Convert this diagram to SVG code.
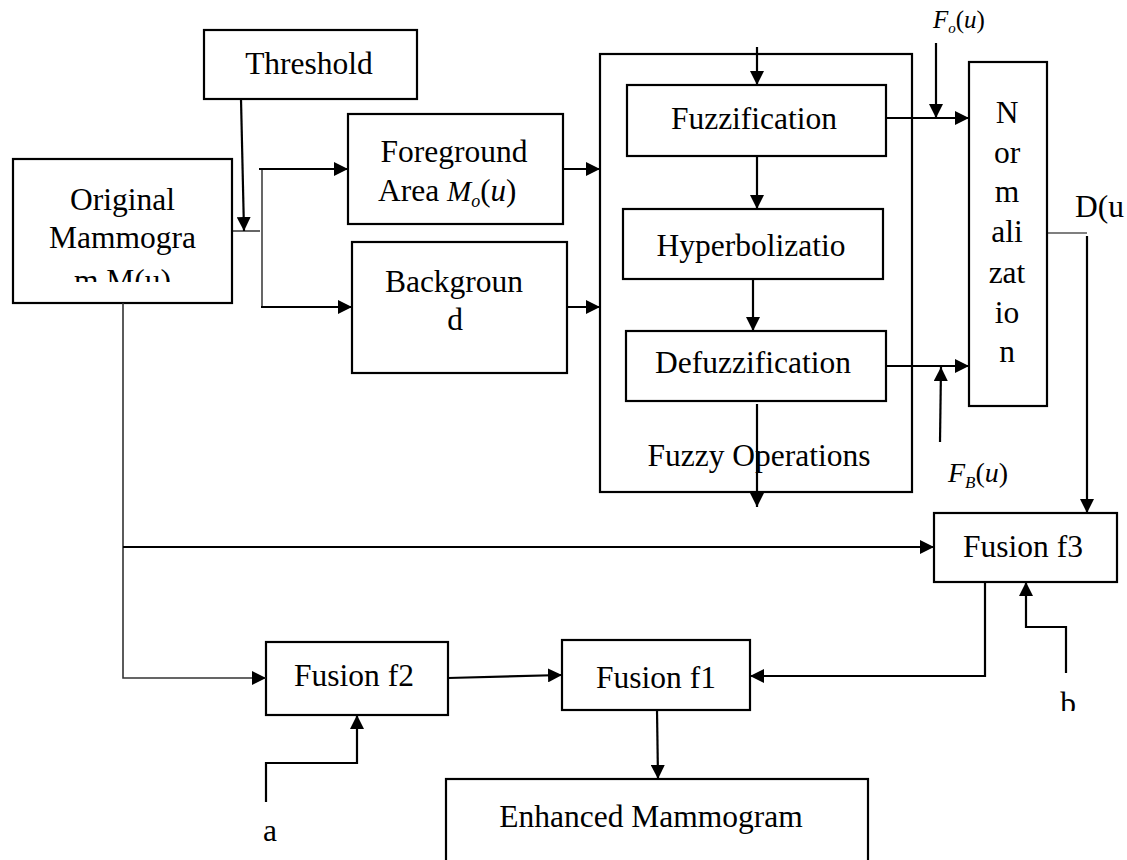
<svg xmlns="http://www.w3.org/2000/svg" width="1127" height="860" viewBox="0 0 1127 860">
<defs>
<style>
.box{fill:none;stroke:#000;stroke-width:2.2}
.ln{fill:none;stroke:#000;stroke-width:2.2}
.thin{fill:none;stroke:#000;stroke-width:1.2}
.t{font-family:"Liberation Serif","Times New Roman",serif;font-size:31.5px;fill:#000;text-anchor:middle}
.it{font-family:"Liberation Serif","Times New Roman",serif;font-style:italic;fill:#000}
</style>
<marker id="ah" markerUnits="userSpaceOnUse" markerWidth="14" markerHeight="14" refX="14" refY="7" orient="auto">
<path d="M0,0 L14,7 L0,14 z" fill="#000"/>
</marker>
<clipPath id="clipOrig"><rect x="0" y="0" width="300" height="282"/></clipPath>
<clipPath id="clipB"><rect x="1000" y="600" width="127" height="111"/></clipPath>
</defs>
<rect width="1127" height="860" fill="#fff"/>

<g id="threshold">
<rect class="box" x="204" y="30" width="213" height="69"/>
<text class="t" x="309" y="74">Threshold</text>
</g>

<g id="original">
<rect class="box" x="13" y="159" width="219" height="144"/>
<text class="t" x="122.5" y="210">Original</text>
<text class="t" x="122.5" y="248">Mammogra</text>
<text class="t" x="122.5" y="291" clip-path="url(#clipOrig)">m M(u)</text>
</g>

<g id="foreground">
<rect class="box" x="348" y="114" width="215" height="110"/>
<text class="t" x="454" y="162">Foreground</text>
<text x="378" y="201" style="font-family:'Liberation Serif','Times New Roman',serif;font-size:31.5px;fill:#000">Area <tspan class="it" font-size="29">M</tspan><tspan class="it" font-size="18" dy="6">o</tspan><tspan font-size="31" dy="-6">(</tspan><tspan class="it" font-size="31">u</tspan><tspan font-size="31">)</tspan></text>
</g>

<g id="background">
<rect class="box" x="352" y="242" width="215" height="131"/>
<text class="t" x="454" y="292">Backgroun</text>
<text class="t" x="455" y="330">d</text>
</g>

<g id="fuzzyops">
<rect class="box" x="600" y="54" width="312" height="438"/>
<text class="t" x="759" y="466">Fuzzy Operations</text>
</g>

<g id="fuzzification">
<rect class="box" x="627" y="85" width="259" height="71"/>
<text class="t" x="754" y="129">Fuzzification</text>
</g>

<g id="hyperbolization">
<rect class="box" x="623" y="209" width="260" height="70"/>
<text class="t" x="751" y="256">Hyperbolizatio</text>
</g>

<g id="defuzzification">
<rect class="box" x="626" y="331" width="260" height="70"/>
<text class="t" x="753" y="373">Defuzzification</text>
</g>

<g id="normalization">
<rect class="box" x="969" y="62" width="78" height="344"/>
<text class="t" x="1007" y="123">N</text>
<text class="t" x="1007" y="163">or</text>
<text class="t" x="1007" y="202">m</text>
<text class="t" x="1007" y="242">ali</text>
<text class="t" x="1007" y="283">zat</text>
<text class="t" x="1007" y="323">io</text>
<text class="t" x="1007" y="362">n</text>
</g>

<g id="fusionf3">
<rect class="box" x="934" y="513" width="183" height="69"/>
<text class="t" x="1023" y="557">Fusion f3</text>
</g>

<g id="fusionf2">
<rect class="box" x="266" y="642" width="182" height="73"/>
<text class="t" x="354" y="686">Fusion f2</text>
</g>

<g id="fusionf1">
<rect class="box" x="562" y="640" width="188" height="70"/>
<text class="t" x="656" y="688">Fusion f1</text>
</g>

<g id="enhanced">
<rect class="box" x="446" y="779" width="422" height="100"/>
<text class="t" x="651" y="827">Enhanced Mammogram</text>
</g>

<g id="labels">
<text class="it" x="933" y="28" font-size="25">F<tspan font-size="15" dy="5">o</tspan><tspan font-style="normal" dy="-5">(</tspan>u<tspan font-style="normal">)</tspan></text>
<text class="it" x="948" y="482" font-size="28">F<tspan font-size="17" dy="6">B</tspan><tspan font-style="normal" dy="-6">(</tspan>u<tspan font-style="normal">)</tspan></text>
<text x="1075" y="217" style="font-family:'Liberation Serif','Times New Roman',serif;font-size:31.5px;fill:#000">D(u</text>
<text class="t" x="270" y="841">a</text>
<text class="t" x="1068" y="714" clip-path="url(#clipB)">b</text>
</g>

<g id="connectors">
<line class="ln" x1="241" y1="99" x2="244" y2="231" marker-end="url(#ah)"/>
<line class="thin" x1="232" y1="231" x2="260" y2="231"/>
<line class="thin" x1="262" y1="169" x2="262" y2="308"/>
<line class="ln" x1="259" y1="169" x2="348" y2="169" marker-end="url(#ah)"/>
<line class="ln" x1="261" y1="307" x2="352" y2="307" marker-end="url(#ah)"/>
<line class="ln" x1="563" y1="169" x2="600" y2="169" marker-end="url(#ah)"/>
<line class="ln" x1="567" y1="307" x2="600" y2="307" marker-end="url(#ah)"/>
<line class="ln" x1="757" y1="47" x2="757" y2="85" marker-end="url(#ah)"/>
<line class="ln" x1="757" y1="156" x2="757" y2="209" marker-end="url(#ah)"/>
<line class="ln" x1="753" y1="279" x2="753" y2="331" marker-end="url(#ah)"/>
<line class="ln" x1="757" y1="404" x2="757" y2="507" marker-end="url(#ah)"/>
<line class="ln" x1="886" y1="118" x2="969" y2="118" marker-end="url(#ah)"/>
<line class="ln" x1="936" y1="43" x2="936" y2="118" marker-end="url(#ah)"/>
<line class="ln" x1="886" y1="366" x2="969" y2="366" marker-end="url(#ah)"/>
<line class="ln" x1="940" y1="442" x2="941" y2="367" marker-end="url(#ah)"/>
<line class="thin" x1="1047" y1="233" x2="1087" y2="233"/>
<line class="ln" x1="1087" y1="236" x2="1087" y2="513" marker-end="url(#ah)"/>
<polyline class="ln" points="123,303 123,678 266,678" marker-end="url(#ah)" style="stroke:#333;stroke-width:1.6"/>
<line class="ln" x1="123" y1="547" x2="934" y2="547" marker-end="url(#ah)"/>
<line class="ln" x1="448" y1="678" x2="562" y2="675" marker-end="url(#ah)"/>
<polyline class="ln" points="985,582 985,676 750,676" marker-end="url(#ah)"/>
<polyline class="ln" points="1066,673 1066,627 1026,627 1026,582" marker-end="url(#ah)"/>
<polyline class="ln" points="266,802 266,763 357,763 357,715" marker-end="url(#ah)"/>
<line class="ln" x1="657" y1="710" x2="658" y2="779" marker-end="url(#ah)"/>
</g>
</svg>
